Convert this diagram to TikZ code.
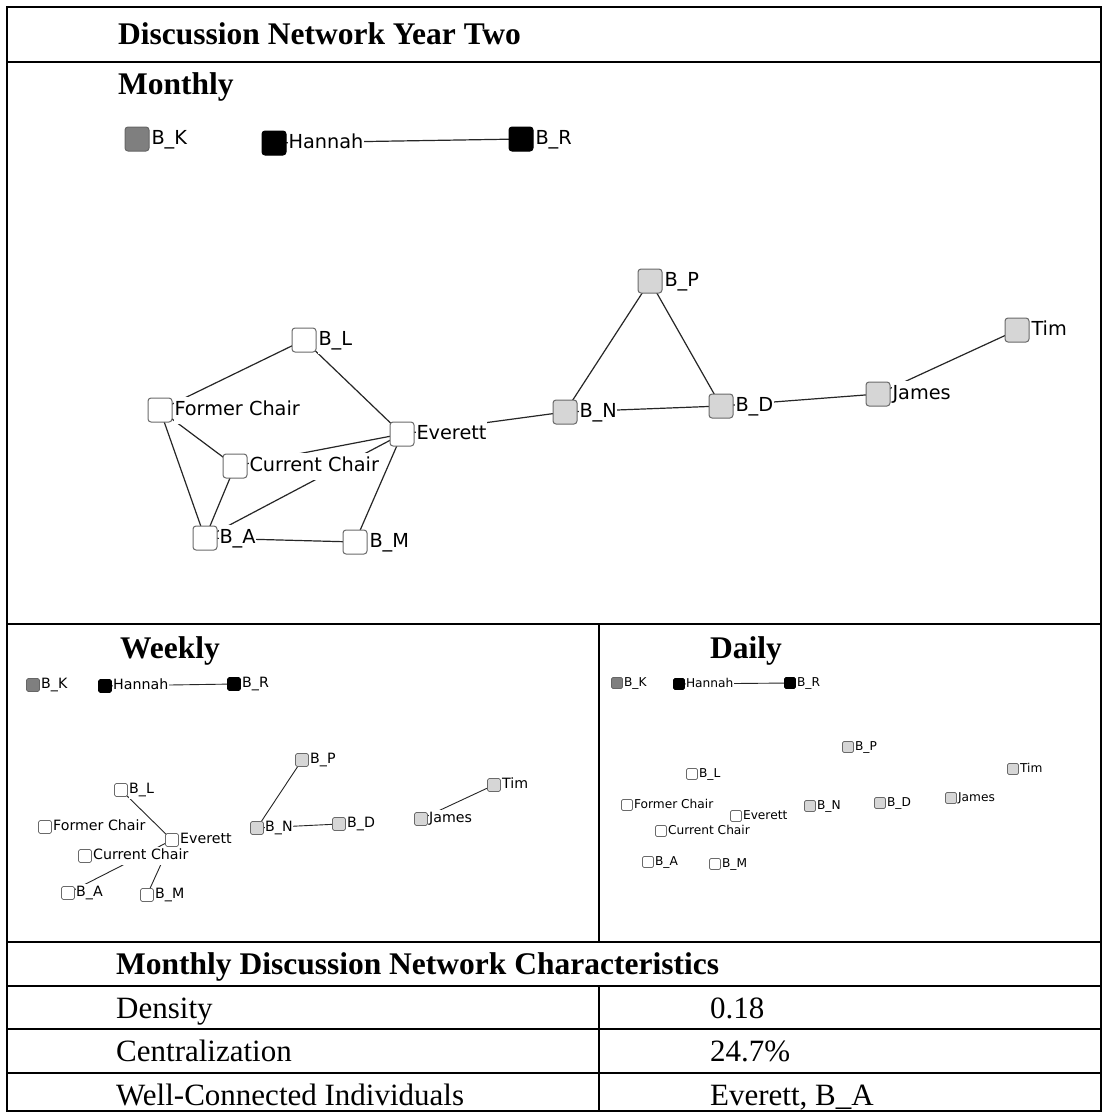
\documentclass[tikz,border=0pt]{standalone}
\usepackage{fontspec}
\setmainfont{Liberation Serif}
\newfontfamily\netfont{DejaVu Sans}
\usetikzlibrary{backgrounds}

\definecolor{rimgray}{HTML}{6A6A6A}
\definecolor{palegray}{HTML}{D6D6D6}
\definecolor{midgray}{HTML}{7F7F7F}
\definecolor{tiecol}{HTML}{262626}

\tikzset{
  rule/.style={line width=2.6pt, line cap=rect},
  heading/.style={font=\fontsize{31.5}{37}\selectfont\bfseries, anchor=base west, inner sep=0pt},
  cell/.style={font=\fontsize{31}{37}\selectfont, anchor=base west, inner sep=0pt},
  % vertex squares, one size per panel
  msq/.style={draw=rimgray, line width=1pt, rounded corners=3pt, minimum size=24pt, inner sep=0pt},
  wsq/.style={draw=rimgray, line width=0.8pt, rounded corners=1.6pt, minimum size=13pt, inner sep=0pt},
  dsq/.style={draw=rimgray, line width=0.7pt, rounded corners=1.4pt, minimum size=11pt, inner sep=0pt},
  % vertex labels, opaque so that ties pass behind them
  mlab/.style={font=\netfont\fontsize{19.3}{23}\selectfont, anchor=west, fill=white, inner xsep=0.3pt,
               inner ysep=4pt, text height=14.7pt, text depth=4.3pt, xshift=1.5pt},
  wlab/.style={font=\netfont\fontsize{14.2}{17}\selectfont, anchor=west, fill=white, inner xsep=0.3pt,
               inner ysep=2.5pt, text height=10.8pt, text depth=3.1pt, xshift=0.8pt},
  dlab/.style={font=\netfont\fontsize{12.2}{15}\selectfont, anchor=west, fill=white, inner xsep=0.3pt,
               inner ysep=2pt, text height=9.3pt, text depth=2.7pt, xshift=0.7pt},
  whitefill/.style={fill=white},
  greyfill/.style={fill=palegray},
  midfill/.style={fill=midgray, draw=midgray!80!black},
  blackfill/.style={fill=black, draw=black},
  mtie/.style={draw=tiecol, line width=1.2pt},
  wtie/.style={draw=tiecol, line width=0.9pt},
  dtie/.style={draw=tiecol, line width=0.9pt},
}

% square vertex with its name to the right
\newcommand\netvertex[6]{%
  \node[#1sq,#5] (#2) at (#3,#4) {};
  \node[#1lab] (#2-t) at (#2.east) {#6};}

\begin{document}
\begin{tikzpicture}[x=1pt, y=-1pt]
\useasboundingbox (0,0) rectangle (1102,1112);

% ---------- table rules ----------
\draw[rule] (7,7) -- (1101,7);
\draw[rule] (7,7) -- (7,1111);
\draw[rule] (1101,7) -- (1101,1111);
\draw[rule] (7,1111) -- (1101,1111);
\draw[rule] (7,62) -- (1101,62);
\draw[rule] (7,624) -- (1101,624);
\draw[rule] (599,624) -- (599,942);
\draw[rule] (7,942) -- (1101,942);
\draw[rule] (7,986) -- (1101,986);
\draw[rule] (599,986) -- (599,1111);
\draw[rule] (7,1029) -- (1101,1029);
\draw[rule] (7,1073) -- (1101,1073);

% ---------- headings and cells ----------
\node[heading] (title) at (118,44) {Discussion Network Year Two};
\node[heading] (hmonthly) at (118,94) {Monthly};
\node[heading] (hweekly) at (120,658) {Weekly};
\node[heading] (hdaily) at (710,658) {Daily};
\node[heading] (hchar) at (116,974) {Monthly Discussion Network Characteristics};
\node[cell] (c1a) at (116,1018) {Density};
\node[cell] (c1b) at (710,1018) {0.18};
\node[cell] (c2a) at (116,1061) {Centralization};
\node[cell] (c2b) at (710,1061) {24.7\%};
\node[cell] (c3a) at (116,1105) {Well-Connected Individuals};
\node[cell] (c3b) at (710,1105) {Everett, B\_A};

% ---------- monthly network ----------
\netvertex{m}{m-bk}{137}{139}{midfill}{B\_K}
\netvertex{m}{m-ha}{274}{143}{blackfill}{Hannah}
\netvertex{m}{m-br}{521}{139}{blackfill}{B\_R}
\netvertex{m}{m-bl}{304}{340}{whitefill}{B\_L}
\netvertex{m}{m-fc}{160}{410}{whitefill}{Former Chair}
\netvertex{m}{m-cc}{235}{466}{whitefill}{Current Chair}
\netvertex{m}{m-ev}{402}{434}{whitefill}{Everett}
\netvertex{m}{m-ba}{205}{538}{whitefill}{B\_A}
\netvertex{m}{m-bm}{355}{542}{whitefill}{B\_M}
\netvertex{m}{m-bp}{650}{281}{greyfill}{B\_P}
\netvertex{m}{m-bn}{565}{412}{greyfill}{B\_N}
\netvertex{m}{m-bd}{721}{406}{greyfill}{B\_D}
\netvertex{m}{m-ja}{878}{394}{greyfill}{James}
\netvertex{m}{m-ti}{1017}{330}{greyfill}{Tim}

% ---------- weekly network ----------
\netvertex{w}{w-bk}{33}{685}{midfill}{B\_K}
\netvertex{w}{w-ha}{105}{686}{blackfill}{Hannah}
\netvertex{w}{w-br}{234}{684}{blackfill}{B\_R}
\netvertex{w}{w-bp}{302}{760}{greyfill}{B\_P}
\netvertex{w}{w-bl}{121}{790}{whitefill}{B\_L}
\netvertex{w}{w-ti}{494}{785}{greyfill}{Tim}
\netvertex{w}{w-fc}{45}{827}{whitefill}{Former Chair}
\netvertex{w}{w-bn}{257}{828}{greyfill}{B\_N}
\netvertex{w}{w-bd}{339}{824}{greyfill}{B\_D}
\netvertex{w}{w-ja}{421}{819}{greyfill}{James}
\netvertex{w}{w-ev}{172}{840}{whitefill}{Everett}
\netvertex{w}{w-cc}{85}{856}{whitefill}{Current Chair}
\netvertex{w}{w-ba}{68}{893}{whitefill}{B\_A}
\netvertex{w}{w-bm}{147}{895}{whitefill}{B\_M}

% ---------- daily network ----------
\netvertex{d}{d-bk}{617}{683}{midfill}{B\_K}
\netvertex{d}{d-ha}{679}{684}{blackfill}{Hannah}
\netvertex{d}{d-br}{790}{683}{blackfill}{B\_R}
\netvertex{d}{d-bp}{848}{747}{greyfill}{B\_P}
\netvertex{d}{d-bl}{692}{774}{whitefill}{B\_L}
\netvertex{d}{d-ti}{1013}{769}{greyfill}{Tim}
\netvertex{d}{d-fc}{627}{805}{whitefill}{Former Chair}
\netvertex{d}{d-bn}{810}{806}{greyfill}{B\_N}
\netvertex{d}{d-bd}{880}{803}{greyfill}{B\_D}
\netvertex{d}{d-ja}{951}{798}{greyfill}{James}
\netvertex{d}{d-ev}{736}{816}{whitefill}{Everett}
\netvertex{d}{d-cc}{661}{831}{whitefill}{Current Chair}
\netvertex{d}{d-ba}{648}{862}{whitefill}{B\_A}
\netvertex{d}{d-bm}{715}{864}{whitefill}{B\_M}

% ---------- ties, drawn behind vertices and labels ----------
\begin{scope}[on background layer]
  \fill[white] (0,0) rectangle (1102,1112);
  \draw[mtie] (m-ha.center) -- (m-br.center);
  \draw[mtie] (m-fc.center) -- (m-bl.center);
  \draw[mtie] (m-bl.center) -- (m-ev.center);
  \draw[mtie] (m-fc.center) -- (m-cc.center);
  \draw[mtie] (m-fc.center) -- (m-ba.center);
  \draw[mtie] (m-cc.center) -- (m-ba.center);
  \draw[mtie] (m-cc.center) -- (m-ev.center);
  \draw[mtie] (m-ba.center) -- (m-ev.center);
  \draw[mtie] (m-ev.center) -- (m-bm.center);
  \draw[mtie] (m-ba.center) -- (m-bm.center);
  \draw[mtie] (m-ev.center) -- (m-bn.center);
  \draw[mtie] (m-bn.center) -- (m-bp.center);
  \draw[mtie] (m-bp.center) -- (m-bd.center);
  \draw[mtie] (m-bn.center) -- (m-bd.center);
  \draw[mtie] (m-bd.center) -- (m-ja.center);
  \draw[mtie] (m-ja.center) -- (m-ti.center);

  \draw[wtie] (w-ha.center) -- (w-br.center);
  \draw[wtie] (w-bl.center) -- (w-ev.center);
  \draw[wtie] (w-ev.center) -- (w-ba.center);
  \draw[wtie] (w-ev.center) -- (w-bm.center);
  \draw[wtie] (w-bp.center) -- (w-bn.center);
  \draw[wtie] (w-bn.center) -- (w-bd.center);
  \draw[wtie] (w-ja.center) -- (w-ti.center);

  \draw[dtie] (d-ha.center) -- (d-br.center);
\end{scope}
\end{tikzpicture}
\end{document}
